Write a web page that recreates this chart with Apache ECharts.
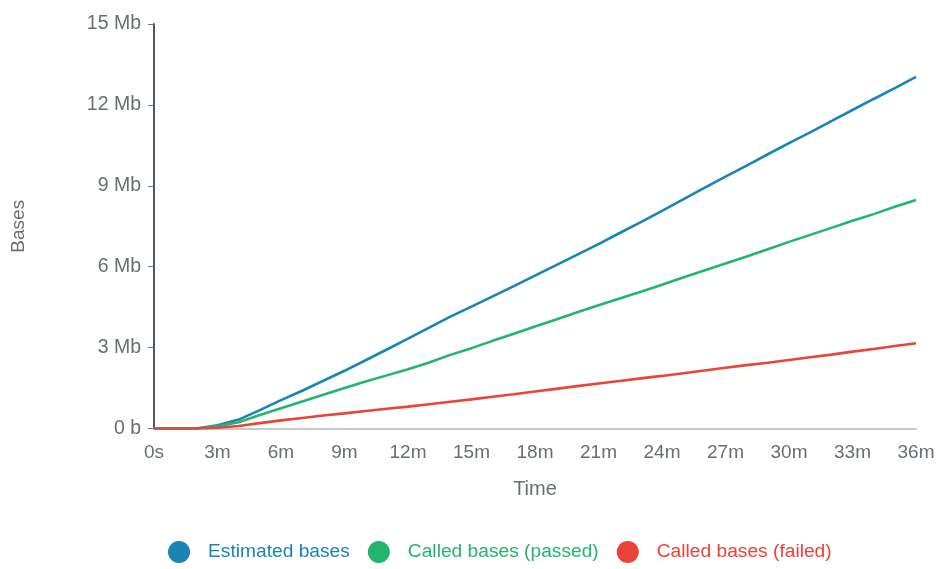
<!DOCTYPE html>
<html>
<head>
<meta charset="utf-8">
<script src="https://cdn.jsdelivr.net/npm/echarts@6/dist/echarts.min.js"></script>
<style>
  html, body { margin: 0; padding: 0; background: #fff; }
  #chart { width: 942px; height: 569px; }
</style>
</head>
<body>
<div id="chart"></div>
<script>
// Elapsed time (minutes) at which cumulative base counts were sampled
const minutes = [0, 1, 2, 3, 4, 5, 6, 7, 8, 9, 10, 11, 12, 13, 14, 15, 16, 17, 18,
  19, 20, 21, 22, 23, 24, 25, 26, 27, 28, 29, 30, 31, 32, 33, 34, 35, 36];

// Cumulative bases, in megabases
const estimatedBases = [0, 0, 0, 0.12, 0.33, 0.68, 1.05, 1.4, 1.77, 2.14, 2.53, 2.93, 3.33,
  3.74, 4.15, 4.52, 4.9, 5.28, 5.67, 6.06, 6.45, 6.84, 7.25, 7.65, 8.07, 8.5, 8.92,
  9.34, 9.75, 10.17, 10.58, 10.98, 11.4, 11.81, 12.22, 12.62, 13.04];
const calledPassed = [0, 0, 0, 0.08, 0.23, 0.5, 0.75, 1.0, 1.25, 1.5, 1.74, 1.97, 2.2,
  2.45, 2.73, 2.98, 3.25, 3.51, 3.78, 4.04, 4.31, 4.57, 4.82, 5.07, 5.33, 5.6, 5.86,
  6.12, 6.38, 6.65, 6.92, 7.18, 7.44, 7.7, 7.95, 8.22, 8.47];
const calledFailed = [0, 0, 0, 0.03, 0.09, 0.2, 0.3, 0.39, 0.48, 0.56, 0.65, 0.73, 0.81,
  0.9, 0.99, 1.08, 1.18, 1.27, 1.37, 1.47, 1.57, 1.67, 1.76, 1.86, 1.95, 2.05, 2.15,
  2.25, 2.35, 2.44, 2.54, 2.64, 2.74, 2.85, 2.95, 3.06, 3.16];

const seriesNames = ['Estimated bases', 'Called bases (passed)', 'Called bases (failed)'];
const seriesColors = ['#1a84b4', '#21b56e', '#ea4338'];

const pairs = vals => minutes.map((m, i) => [m, vals[i]]);

const FONT = '"Liberation Sans", Arial, sans-serif';
const LABEL_GREY = '#67706f';

const chart = echarts.init(document.getElementById('chart'), null, { renderer: 'canvas' });

chart.setOption({
  animation: false,
  backgroundColor: '#ffffff',
  textStyle: { fontFamily: FONT },
  grid: { left: 154, right: 26, top: 24, bottom: 140.5, containLabel: false },
  legend: {
    top: 536,
    left: 163,
    icon: 'circle',
    itemWidth: 22,
    itemHeight: 22,
    itemGap: 18,
    data: seriesNames.map((n, i) => ({
      name: n,
      textStyle: { color: seriesColors[i] }
    })),
    textStyle: { fontSize: 19.2, fontFamily: FONT, padding: [0, 0, 0, 13] }
  },
  xAxis: {
    type: 'value',
    min: 0,
    max: 36,
    interval: 3,
    name: 'Time',
    nameLocation: 'middle',
    nameGap: 51,
    nameTextStyle: { color: LABEL_GREY, fontSize: 20, fontFamily: FONT },
    axisLine: { show: true, lineStyle: { color: '#c6c9c9', width: 2 } },
    axisTick: { show: false },
    splitLine: { show: false },
    axisLabel: {
      color: LABEL_GREY,
      fontSize: 19,
      fontFamily: FONT,
      margin: 15,
      formatter: v => (v === 0 ? '0s' : v + 'm')
    }
  },
  yAxis: {
    type: 'value',
    min: 0,
    max: 15,
    interval: 3,
    name: 'Bases',
    nameLocation: 'middle',
    nameGap: 126,
    nameRotate: 90,
    nameTextStyle: { color: LABEL_GREY, fontSize: 19, fontFamily: FONT },
    axisLine: { show: true, lineStyle: { color: '#4f5a5b', width: 2 } },
    axisTick: { show: true, length: 6, lineStyle: { color: '#6f7878', width: 1 } },
    splitLine: { show: false },
    axisLabel: {
      color: LABEL_GREY,
      fontSize: 19.5,
      fontFamily: FONT,
      margin: 13,
      formatter: v => (v === 0 ? '0 b' : v + ' Mb')
    }
  },
  series: [estimatedBases, calledPassed, calledFailed].map((vals, i) => ({
    name: seriesNames[i],
    type: 'line',
    data: pairs(vals),
    showSymbol: false,
    symbol: 'none',
    color: seriesColors[i],
    lineStyle: { width: 2.6, color: seriesColors[i] },
    z: 2 + i
  }))
});
</script>
</body>
</html>
